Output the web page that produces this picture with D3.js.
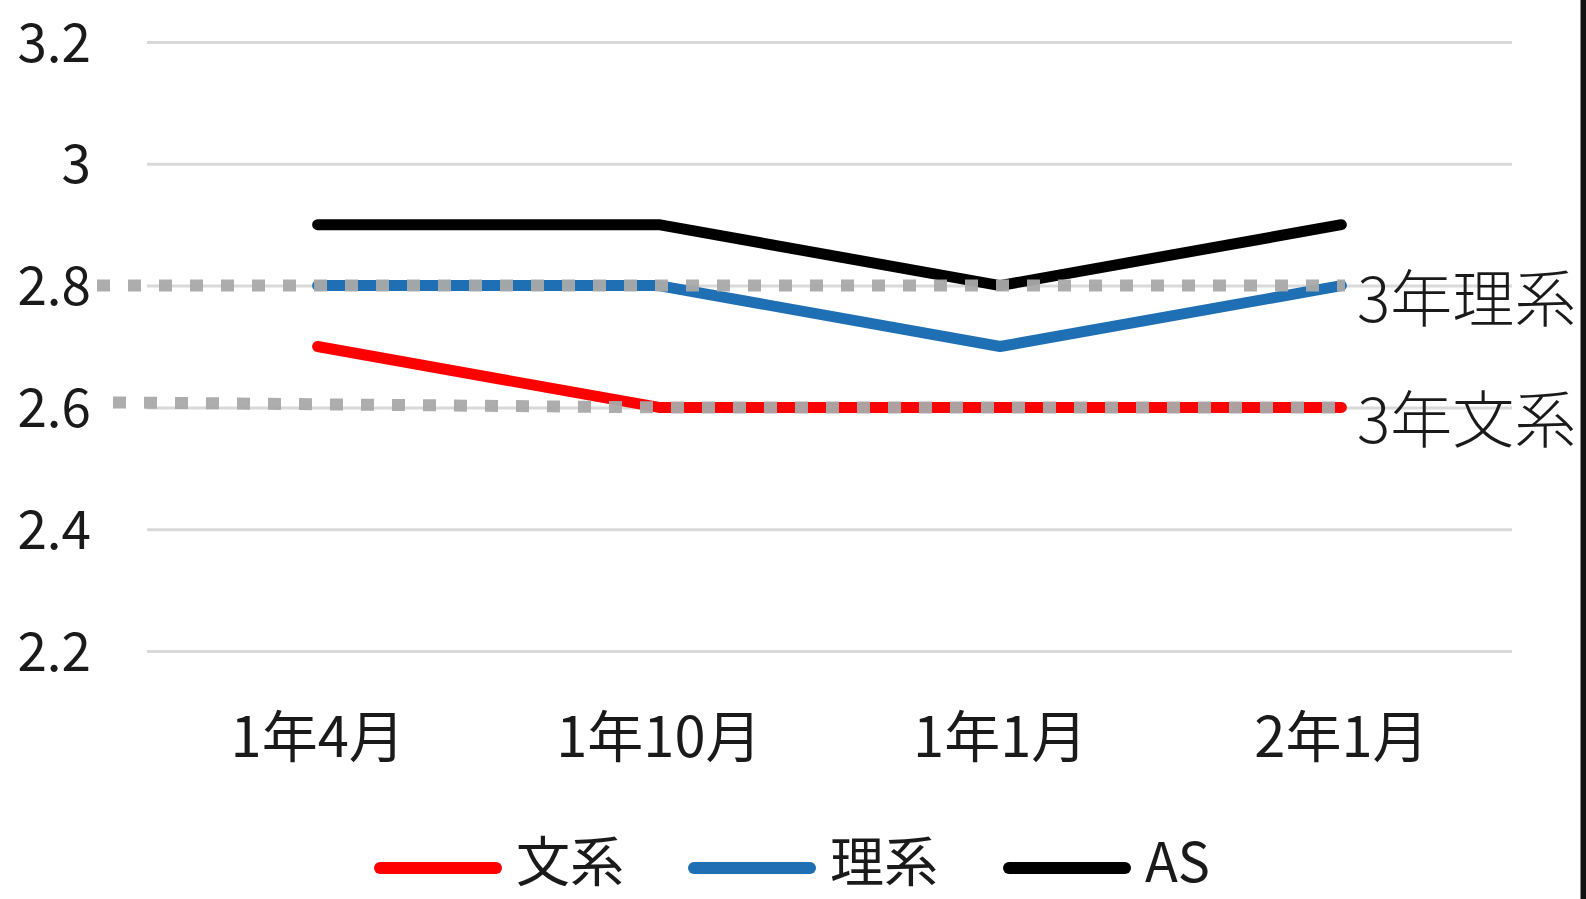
<!DOCTYPE html>
<html>
<head>
<meta charset="utf-8">
<script src="https://cdn.jsdelivr.net/npm/d3@7"></script>
<style>
  html, body { margin: 0; padding: 0; background: #fff; overflow: hidden; }
  svg { display: block; }
  text { font-family: "Noto Sans CJK JP", "Noto Sans", sans-serif; fill: #1a1a1a; }
</style>
</head>
<body>
<svg id="chart" width="1586" height="899"></svg>
<script>
// ---- data ----
const categories = ["1年4月", "1年10月", "1年1月", "2年1月"];
const seriesNames = ["文系", "理系", "AS"];
const bunkeiValues = [2.7, 2.6, 2.6, 2.6];
const rikeiValues = [2.8, 2.8, 2.7, 2.8];
const asValues = [2.9, 2.9, 2.8, 2.9];
const yTickValues = [2.2, 2.4, 2.6, 2.8, 3.0, 3.2];
const yTickLabels = ["2.2", "2.4", "2.6", "2.8", "3", "3.2"];
const refLabels = ["3年理系", "3年文系"];
const refValues = [2.8, 2.6];

// ---- layout ----
const W = 1586, H = 899;
const plotLeft = 147, plotRight = 1512, plotTop = 42, plotBottom = 651;
const colors = ["#ff0000", "#1f6fb4", "#000000"];
const seriesValues = [bunkeiValues, rikeiValues, asValues];

const svg = d3.select("#chart");
svg.append("rect").attr("width", W).attr("height", H).attr("fill", "#fff");

const x = d3.scaleBand().domain(categories).range([plotLeft, plotRight]);
const y = d3.scaleLinear().domain([2.2, 3.2]).range([plotBottom, plotTop]);
const cx = c => x(c) + x.bandwidth() / 2;

// y axis with gridlines
const yAxis = d3.axisLeft(y)
  .tickValues(yTickValues)
  .tickFormat((d, i) => yTickLabels[i])
  .tickSize(plotRight - plotLeft)
  .tickPadding(56);
const gy = svg.append("g").attr("transform", `translate(${plotRight},0)`).call(yAxis);
gy.select(".domain").remove();
gy.selectAll(".tick line").attr("stroke", "#d9d9d9").attr("stroke-width", 3);
gy.selectAll(".tick text")
  .attr("font-size", 53)
  .attr("fill", "#1a1a1a")
  .attr("font-family", "'Noto Sans CJK JP', sans-serif")
  .attr("dy", "0.36em");

// x axis
const xAxis = d3.axisBottom(x).tickSize(0).tickPadding(0);
const gx = svg.append("g").attr("transform", `translate(0,${plotBottom})`).call(xAxis);
gx.select(".domain").remove();
gx.selectAll(".tick text")
  .attr("font-size", 56)
  .attr("fill", "#1a1a1a")
  .attr("font-family", "'Noto Sans CJK JP', sans-serif")
  .attr("y", 106)
  .attr("dy", 0);

// series lines
const line = d3.line().x((d, i) => cx(categories[i])).y(d => y(d));
seriesValues.forEach((vals, k) => {
  svg.append("path")
    .datum(vals)
    .attr("d", line)
    .attr("fill", "none")
    .attr("stroke", colors[k])
    .attr("stroke-width", 11)
    .attr("stroke-linecap", "round")
    .attr("stroke-linejoin", "round");
});

// dotted reference lines + labels
const refStartX = [97, 113];
const refEndX = 1345;
refValues.forEach((v, k) => {
  const yy = y(v);
  const pts = k === 1
    ? [[refStartX[k], yy - 5], [cx(categories[1]), yy], [refEndX, yy]]
    : [[refStartX[k], yy], [refEndX, yy]];
  svg.append("path")
    .attr("d", d3.line()(pts))
    .attr("fill", "none")
    .attr("stroke", "#a9a9a9")
    .attr("stroke-width", 12)
    .attr("stroke-dasharray", "13 18")
    .attr("stroke-opacity", 0.95);
  svg.append("text")
    .attr("x", 1357)
    .attr("y", yy + 36)
    .attr("font-size", 62)
    .attr("font-weight", 300)
    .attr("fill", "#222")
    .text(refLabels[k]);
});

// legend
const legendLineX = [374, 688, 1003];
const legendLen = 128;
const legendY = 868;
seriesNames.forEach((name, k) => {
  svg.append("line")
    .attr("x1", legendLineX[k] + 6).attr("x2", legendLineX[k] + legendLen - 6)
    .attr("y1", legendY).attr("y2", legendY)
    .attr("stroke", colors[k])
    .attr("stroke-width", 12)
    .attr("stroke-linecap", "round");
  svg.append("text")
    .attr("x", legendLineX[k] + legendLen + 14)
    .attr("y", 882)
    .attr("font-size", 54)
    .attr("fill", "#1a1a1a")
    .text(name);
});

// right border
svg.append("rect").attr("x", 1580).attr("y", 0).attr("width", 1).attr("height", H).attr("fill", "#888");
svg.append("rect").attr("x", 1581).attr("y", 0).attr("width", 5).attr("height", H).attr("fill", "#111");
</script>
</body>
</html>
